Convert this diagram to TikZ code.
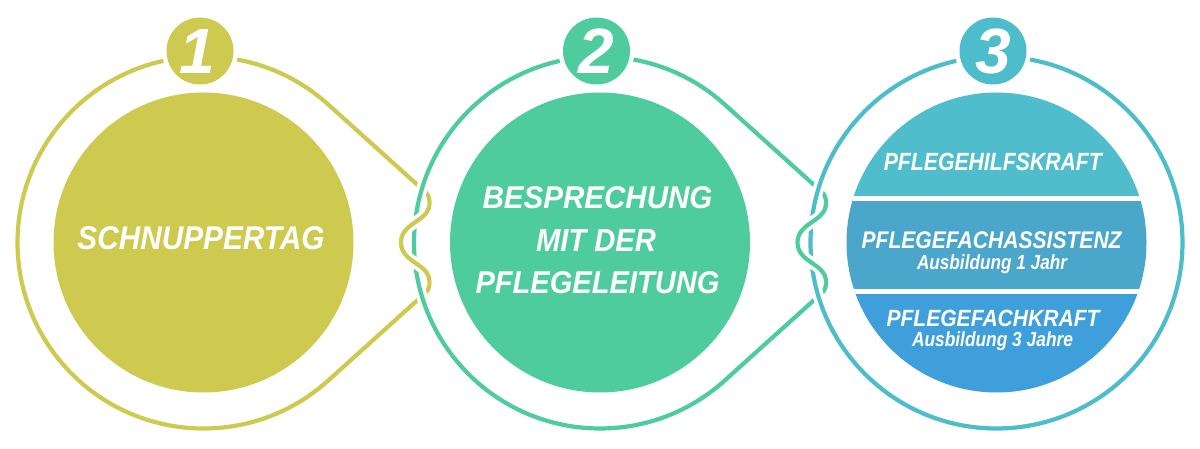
\documentclass[tikz,border=0pt]{standalone}
\usepackage{fontspec}
\setmainfont{Liberation Sans}
\usepackage{graphicx}
\definecolor{cy}{HTML}{CEC94F}
\definecolor{cg}{HTML}{4ECC9E}
\definecolor{ct}{HTML}{4DBDCB}
\definecolor{sa}{HTML}{4FBDCC}
\definecolor{sb}{HTML}{4BA6CC}
\definecolor{sc}{HTML}{3E9FDB}
\newcommand\ringfull{(48:186) arc[start angle=48,end angle=312,radius=186] -- (222.2,-50.2) .. controls (225.2,-47.5) and (226,-43.5) .. (226,-39.5) .. controls (226,-20.5) and (197.5,-20.5) .. (197.5,0) .. controls (197.5,20.5) and (226,20.5) .. (226,39.5) .. controls (226,43.5) and (225.2,47.5) .. (222.2,50.2) -- cycle}
\newcommand\wavemid{(226,-39.5) .. controls (226,-20.5) and (197.5,-20.5) .. (197.5,0) .. controls (197.5,20.5) and (226,20.5) .. (226,39.5)}
\tikzset{
  ringline/.style={line width=4.2pt, line join=round},
  halo/.style={white, line width=11.2pt},
  lbl/.style={text=white, font=\fontsize{30}{36}\selectfont\bfseries\itshape, inner sep=0pt, anchor=base},
  digit/.style={text=white, font=\fontsize{64}{64}\selectfont\bfseries\itshape, inner sep=0pt, anchor=base}
}
\begin{document}
\begin{tikzpicture}[x=1pt,y=-1pt]
\useasboundingbox (0,0) rectangle (1200,449);
% ring 1
\begin{scope}[shift={(203.5,242.5)}]
  \draw[cy, ringline] \ringfull;
\end{scope}
% ring 2
\begin{scope}[shift={(600,242.5)}]
  \draw[halo] \ringfull;
  \draw[cg, ringline] \ringfull;
\end{scope}
% wave 1 over ring 2
\begin{scope}[shift={(203.5,242.5)}]
  \draw[halo] \wavemid;
  \draw[cy, ringline] \wavemid;
\end{scope}
% ring 3
\draw[halo] (996.5,242.5) circle[radius=186];
\draw[ct, ringline] (996.5,242.5) circle[radius=186];
% wave 2 over ring 3
\begin{scope}[shift={(600,242.5)}]
  \draw[halo] \wavemid;
  \draw[cg, ringline] \wavemid;
\end{scope}
% inner discs
\fill[cy] (203.5,242.5) circle[radius=150];
\fill[cg] (600,242.5) circle[radius=150];
\begin{scope}
  \clip (996.5,242.5) circle[radius=150];
  \fill[sa] (840,90) rectangle (1150,198.6);
  \fill[sb] (840,198.6) rectangle (1150,291.7);
  \fill[sc] (840,291.7) rectangle (1150,395);
  \fill[white] (840,196) rectangle (1150,201.5);
  \fill[white] (840,289.3) rectangle (1150,294.2);
\end{scope}
% badges
\fill[white] (200,51) circle[radius=38];
\fill[cy] (200,51) circle[radius=33.5];
\fill[white] (596.5,51) circle[radius=38];
\fill[cg] (596.5,51) circle[radius=33.5];
\fill[white] (993,51) circle[radius=38];
\fill[ct] (993,51) circle[radius=33.5];
\node[digit] (n1) at (197,73.5) {1};
\node[digit] (n2) at (596,73.5) {2};
\node[digit] (n3) at (993,73.5) {3};
% labels
\node[lbl] (t1) at (201,250) {\resizebox{247pt}{23pt}{SCHNUPPERTAG}};
\node[lbl] (t2a) at (597.5,209) {\resizebox{230pt}{22pt}{BESPRECHUNG}};
\node[lbl] (t2b) at (596,252) {\resizebox{120pt}{22pt}{MIT DER}};
\node[lbl] (t2c) at (597.5,293.3) {\resizebox{244pt}{22pt}{PFLEGELEITUNG}};
\node[lbl] (t3a) at (992.8,170.7) {\resizebox{218pt}{17.4pt}{PFLEGEHILFSKRAFT}};
\node[lbl] (t3b) at (991.6,248.3) {\resizebox{260pt}{16.8pt}{PFLEGEFACHASSISTENZ}};
\node[lbl] (t3c) at (992,269.3) {\resizebox{150pt}{14.8pt}{Ausbildung 1 Jahr}};
\node[lbl] (t3d) at (993,326) {\resizebox{213pt}{16.4pt}{PFLEGEFACHKRAFT}};
\node[lbl] (t3e) at (992.5,346.7) {\resizebox{161pt}{14.8pt}{Ausbildung 3 Jahre}};
\end{tikzpicture}
\end{document}
